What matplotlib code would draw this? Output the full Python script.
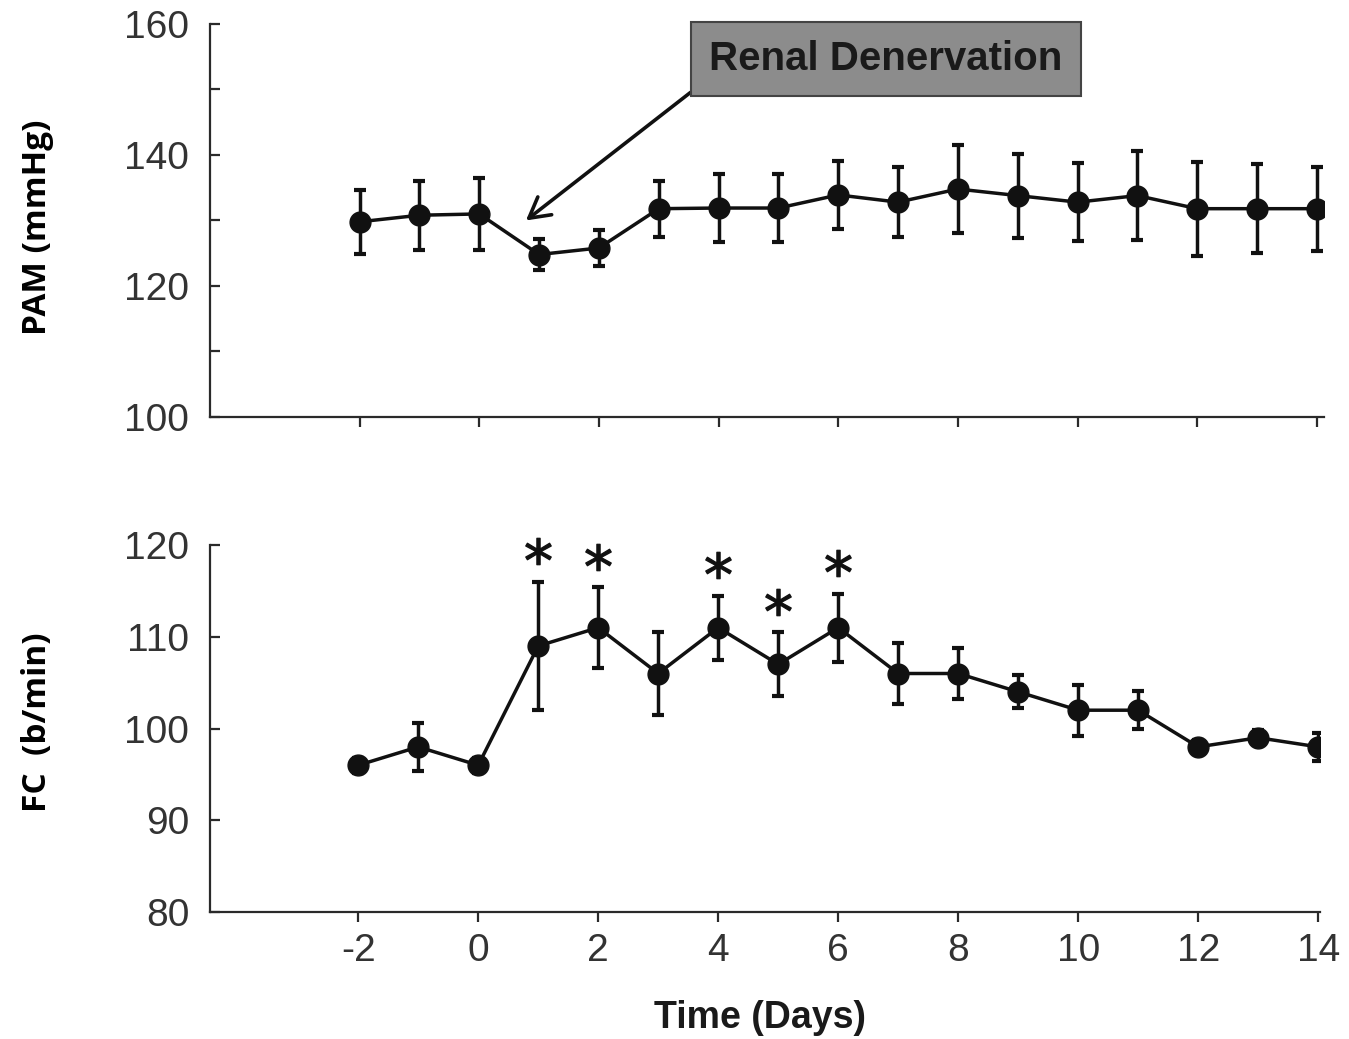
import matplotlib.pyplot as plt
import numpy as np
from matplotlib.ticker import MultipleLocator

plt.rcParams['axes.unicode_minus'] = False

# dados
days = [-2, -1, 0, 1, 2, 3, 4, 5, 6, 7, 8, 9, 10, 11, 12, 13, 14]
pam_mean = [129.8, 130.8, 131, 124.8, 125.8, 131.8, 131.9, 131.9, 133.9, 132.8, 134.8, 133.8, 132.8, 133.8, 131.8, 131.8, 131.8]
pam_err = [4.9, 5.3, 5.5, 2.3, 2.7, 4.3, 5.2, 5.2, 5.2, 5.3, 6.7, 6.4, 6.0, 6.8, 7.2, 6.8, 6.4]
fc_mean = [96, 98, 96, 109, 111, 106, 111, 107, 111, 106, 106, 104, 102, 102, 98, 99, 98]
fc_err = [0.8, 2.6, 0.8, 7.0, 4.4, 4.5, 3.5, 3.5, 3.7, 3.3, 2.8, 1.8, 2.8, 2.1, 0.8, 0.8, 1.5]
star_days = [1, 2, 4, 5, 6]
xticks = [-2, 0, 2, 4, 6, 8, 10, 12, 14]

tick_font = ['Liberation Sans', 'DejaVu Sans']
label_font = ['Open Sans', 'DejaVu Sans']
cor = '#111111'
eixo = '#2a2a2a'

fig = plt.figure(figsize=(13.49, 10.39), dpi=100)
ax1 = fig.add_axes([0.1557, 0.5987, 0.8258, 0.3782])
ax2 = fig.add_axes([0.1557, 0.1222, 0.8228, 0.3532])

estilo = dict(color=cor, lw=2.5, marker='o', ms=15, mfc=cor, mec=cor,
              ecolor=cor, elinewidth=2.5, capsize=4, capthick=3, zorder=3)
ax1.errorbar(days, pam_mean, yerr=pam_err, **estilo)
ax2.errorbar(days, fc_mean, yerr=fc_err, **estilo)

# asteriscos acima das barras de erro
sx = [d for d in star_days]
sy = [fc_mean[days.index(d)] + fc_err[days.index(d)] + 3.3 for d in star_days]
ax2.plot(sx, sy, ls='none', marker='$*$', ms=19, color=cor, mew=0.9, clip_on=False, zorder=4)

for ax in (ax1, ax2):
    for s in ('top', 'right'):
        ax.spines[s].set_visible(False)
    for s in ('left', 'bottom'):
        ax.spines[s].set_color(eixo)
        ax.spines[s].set_linewidth(1.6)
    ax.set_xticks(xticks)
    ax.tick_params(axis='y', which='both', direction='in', length=7, width=1.6,
                   color=eixo, pad=15, labelsize=28, labelcolor='#333333')
    ax.tick_params(axis='x', which='both', direction='out', length=7, width=1.6,
                   color=eixo, pad=8, labelsize=28, labelcolor='#333333')

ax1.set_xlim(-4.5, 14.12)
ax1.set_ylim(100, 160)
ax1.yaxis.set_major_locator(MultipleLocator(20))
ax1.yaxis.set_minor_locator(MultipleLocator(10))
ax1.tick_params(axis='x', labelbottom=False)

ax2.set_xlim(-4.47, 14.03)
ax2.set_ylim(80, 120)
ax2.yaxis.set_major_locator(MultipleLocator(10))
for lab in ax2.get_xticklabels() + ax2.get_yticklabels() + ax1.get_yticklabels():
    lab.set_fontfamily(tick_font)

ax1.annotate('Renal Denervation', xy=(0.78, 130.0), xytext=(6.8, 154.7),
             ha='center', va='center', fontsize=29, fontweight='bold',
             family=['Liberation Sans', 'DejaVu Sans'], color='#1a1a1a',
             bbox=dict(boxstyle='square,pad=0.45', fc='#8c8c8c', ec='#444444', lw=1.5),
             arrowprops=dict(arrowstyle='->,head_length=0.5,head_width=0.28', color=cor,
                             lw=2.6, relpos=(0, 0), shrinkA=0, shrinkB=0))

fig.text(0.028, 0.781, 'PAM (mmHg)', rotation=90, ha='center', va='center',
         fontsize=24, fontweight='bold', family=label_font, color='black')
fig.text(0.028, 0.305, 'FC  (b/min)', rotation=90, ha='center', va='center',
         fontsize=24, fontweight='bold', family=label_font, color='black')
fig.text(0.5635, 0.02, 'Time (Days)', ha='center', va='center',
         fontsize=27, fontweight='bold', family=['Liberation Sans', 'DejaVu Sans'],
         color='#1a1a1a')

fig.savefig('out.png', dpi=100)
